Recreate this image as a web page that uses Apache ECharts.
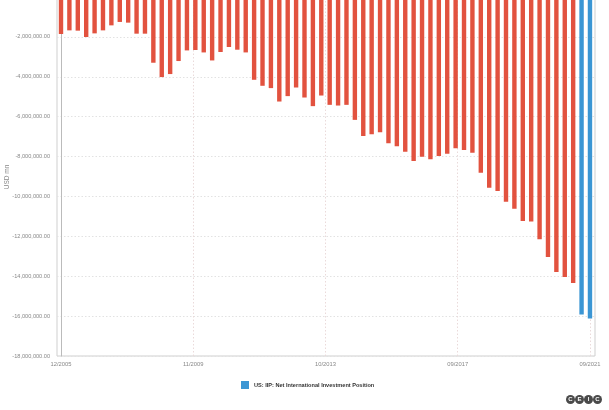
<!DOCTYPE html>
<html>
<head>
<meta charset="utf-8">
<script src="https://cdn.jsdelivr.net/npm/echarts@6/dist/echarts.min.js"></script>
<style>
html,body{margin:0;padding:0;background:#fff;}
#chart{width:609px;height:410px;}
</style>
</head>
<body>
<div id="chart"></div>
<script>
// Quarterly periods (MM/YYYY)
var periods = [
 '12/2005',
 '03/2006','06/2006','09/2006','12/2006',
 '03/2007','06/2007','09/2007','12/2007',
 '03/2008','06/2008','09/2008','12/2008',
 '03/2009','06/2009','09/2009','12/2009',
 '03/2010','06/2010','09/2010','12/2010',
 '03/2011','06/2011','09/2011','12/2011',
 '03/2012','06/2012','09/2012','12/2012',
 '03/2013','06/2013','09/2013','12/2013',
 '03/2014','06/2014','09/2014','12/2014',
 '03/2015','06/2015','09/2015','12/2015',
 '03/2016','06/2016','09/2016','12/2016',
 '03/2017','06/2017','09/2017','12/2017',
 '03/2018','06/2018','09/2018','12/2018',
 '03/2019','06/2019','09/2019','12/2019',
 '03/2020','06/2020','09/2020','12/2020',
 '03/2021','06/2021','09/2021'
];
// US: IIP: Net International Investment Position (USD mn)
var niip = [
 -1854000,
 -1673000,-1688000,-2005000,-1824000,
 -1673000,-1422000,-1251000,-1286000,
 -1839000,-1839000,-3296000,-4015000,
 -3864000,-3211000,-2678000,-2658000,
 -2779000,-3181000,-2759000,-2508000,
 -2643000,-2779000,-4151000,-4452000,
 -4568000,-5241000,-4970000,-4538000,
 -5040000,-5472000,-4940000,-5407000,
 -5442000,-5407000,-6161000,-6965000,
 -6879000,-6779000,-7332000,-7482000,
 -7754000,-8221000,-8005000,-8136000,
 -7970000,-7854000,-7583000,-7668000,
 -7804000,-8809000,-9563000,-9729000,
 -10266000,-10618000,-11236000,-11251000,
 -12141000,-13030000,-13784000,-14035000,
 -14337000,-15925000,-16126000
];
// x tick labels (evenly spaced months from 12/2005)
var xTickMonths = [0, 47.25, 94.5, 141.75, 189];
var seriesName = 'US: IIP: Net International Investment Position';
var yAxisTitle = 'USD mn';
var highlightedLast = 2;

var BASE = 2005*12 + 12;
function monthIndex(p){ var a = p.split('/'); return (+a[1])*12 + (+a[0]) - BASE; }
function monthLabel(m){
  var t = BASE + Math.floor(m + 1e-6);
  var y = Math.floor((t-1)/12), mo = t - y*12;
  return (mo<10?'0':'') + mo + '/' + y;
}
function fmt(v){
  if (v === 0) return '';
  var s = Math.abs(v).toFixed(2).split('.');
  s[0] = s[0].replace(/\B(?=(\d{3})+(?!\d))/g, ',');
  return (v<0?'-':'') + s[0] + '.' + s[1];
}

var data = periods.map(function(p,i){ return [monthIndex(p), niip[i]]; });
var RED = '#e2523f', BLUE = '#3b96d4';

var chart = echarts.init(document.getElementById('chart'), null, {renderer:'canvas'});
chart.setOption({
  animation:false,
  backgroundColor:'#fff',
  grid:{left:57, right:14, top:-3, bottom:54, show:true, borderColor:'#cfcfcf', borderWidth:1,
        containLabel:false, outerBoundsMode:'none'},
  legend:{
    show:true, left:236, top:376, itemWidth:8, itemHeight:8, icon:'rect', itemGap:4,
    textStyle:{fontSize:5.6, fontWeight:'bold', color:'#333', fontFamily:'Liberation Sans, Arial'},
    data:[{name:seriesName, itemStyle:{color:BLUE}}]
  },
  xAxis:{
    type:'value', min:-1.43, max:190.8,
    axisLine:{show:true, lineStyle:{color:'#bbb'}},
    axisTick:{show:true, customValues:xTickMonths, length:3, lineStyle:{color:'#bbb'}},
    splitLine:{show:false},
    axisLabel:{customValues:xTickMonths, formatter:function(v){return monthLabel(v);}, fontSize:5.8, color:'#888', margin:5, fontFamily:'Liberation Sans, Arial'}
  },
  yAxis:{
    type:'value', min:-18000000, max:0, interval:2000000,
    axisLine:{show:true, lineStyle:{color:'#bbb'}},
    axisTick:{show:false},
    splitLine:{show:true, lineStyle:{color:'#e2e2e2', type:[1.5,2], width:1}},
    axisLabel:{formatter:fmt, fontSize:5.6, color:'#888', margin:7, fontFamily:'Liberation Sans, Arial'}
  },
  series:[{
    name:seriesName, type:'bar', data:data, barWidth:4.4,
    itemStyle:{color:function(p){ return p.dataIndex >= niip.length - highlightedLast ? BLUE : RED; }},
    markLine:{
      silent:true, symbol:['none','none'], label:{show:false},
      lineStyle:{color:'#eadada', type:[1.5,2], width:1},
      z:0,
      data:xTickMonths.map(function(m){ return {xAxis:m}; })
    }
  }],
  graphic:[{
    type:'text', x:7, y:177, rotation:Math.PI/2,
    style:{text:yAxisTitle, fill:'#888', fontSize:6.5, align:'center', verticalAlign:'middle', fontFamily:'Liberation Sans, Arial'}
  },{
    type:'group', left:566, top:395,
    children:['C','E','I','C'].map(function(ch,i){
      return {type:'group', x:i*9, y:0, children:[
        {type:'circle', shape:{cx:4.5, cy:4.5, r:4.5}, style:{fill:'#4a4a4a'}},
        {type:'text', x:4.5, y:4.6, style:{text:ch, fill:'#fff', fontSize:6, fontWeight:'bold', align:'center', verticalAlign:'middle', fontFamily:'Liberation Sans, Arial'}}
      ]};
    })
  }]
});
</script>
</body>
</html>
